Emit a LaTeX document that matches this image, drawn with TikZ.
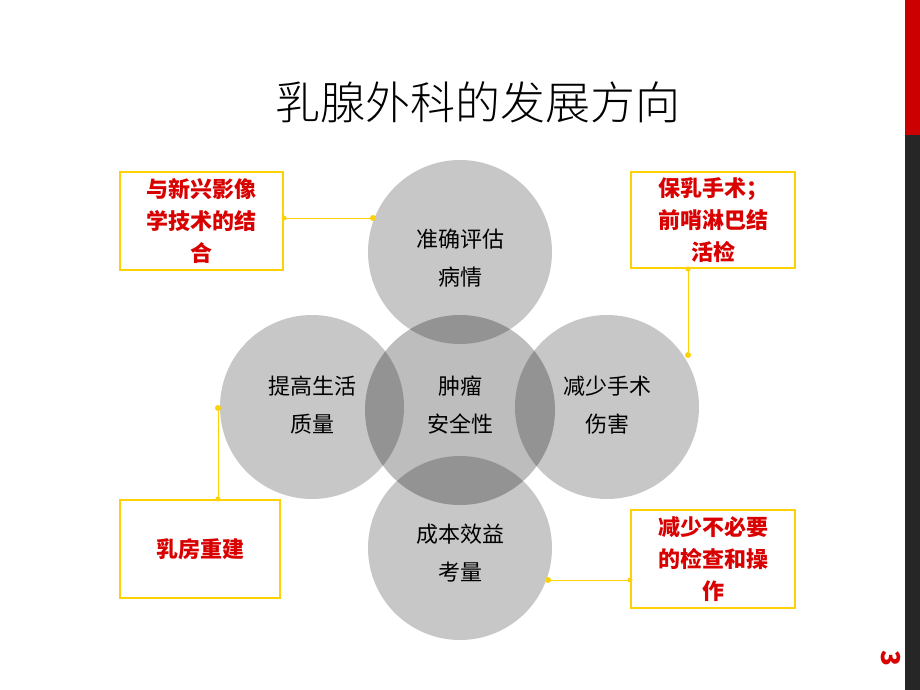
\documentclass[tikz,border=0pt]{standalone}
\usepackage{fontspec}
\setmainfont{Noto Sans CJK SC}
\newfontfamily\lightcjk{Noto Sans CJK SC Light}
\begin{document}
\begin{tikzpicture}[x=1pt,y=-1pt,
  circ/.style={circle,fill=black,fill opacity=0.22,minimum size=184pt,inner sep=0pt},
  lab/.style={font=\fontsize{22}{38}\selectfont,align=center},
  box/.style={draw=yellow!70!orange,line width=2pt,text=red!85!black,font=\bfseries\fontsize{22}{32}\selectfont,align=center,inner sep=0pt},
  conn/.style={yellow!70!orange,line width=0.8pt},
  dot/.style={circle,fill=yellow!70!orange,inner sep=0pt,minimum size=6pt}]
\useasboundingbox (0,0) rectangle (920,690);
\fill[white] (0,0) rectangle (920,690);
\fill[red!80!black] (905,0) rectangle (920,135);
\fill[black!85] (905,135) rectangle (920,690);
\node[rotate=-90,text=red!85!black,font=\bfseries\fontsize{26}{26}\selectfont] (pg) at (891,658) {3};
\node[font=\lightcjk\fontsize{45}{48}\selectfont] (title) at (478,102) {乳腺外科的发展方向};
\node[circ,fill opacity=0.26,minimum size=190pt] (c) at (460,410) {};
\node[circ] (t) at (460,252) {};
\node[circ] (l) at (312,407) {};
\node[circ] (r) at (607,407) {};
\node[circ] (b) at (460,548) {};
\node[lab] (ct) at (460,405) {肿瘤\\安全性};
\node[lab] (tt) at (460,258) {准确评估\\病情};
\node[lab] (lt) at (312,405) {提高生活\\质量};
\node[lab] (rt) at (607,405) {减少手术\\伤害};
\node[lab] (bt) at (460,553) {成本效益\\考量};
\node[box,minimum width=163pt,minimum height=98pt] (b1) at (201.5,221) {与新兴影像\\学技术的结\\合};
\node[box,minimum width=164pt,minimum height=96pt] (b2) at (713,220) {保乳手术；\\前哨淋巴结\\活检};
\node[box,minimum width=160pt,minimum height=98pt] (b3) at (200,549) {乳房重建};
\node[box,minimum width=164pt,minimum height=98pt] (b4) at (713,559) {减少不必要\\的检查和操\\作};
\node[dot] (d1) at (373,218) {};
\node[dot] (d2) at (688,355) {};
\node[dot] (d3) at (218,408) {};
\node[dot] (d4) at (548,580) {};
\draw[conn] (b1.east |- d1) -- (d1);
\draw[conn] (b2.south -| d2) -- (d2);
\draw[conn] (b3.north -| d3) -- (d3);
\draw[conn] (b4.west |- d4) -- (d4);
\fill[yellow!70!orange] (b1.east |- d1) circle (2.5pt) (b2.south -| d2) circle (2.5pt) (b3.north -| d3) circle (2.5pt) (b4.west |- d4) circle (2.5pt);
\end{tikzpicture}
\end{document}
